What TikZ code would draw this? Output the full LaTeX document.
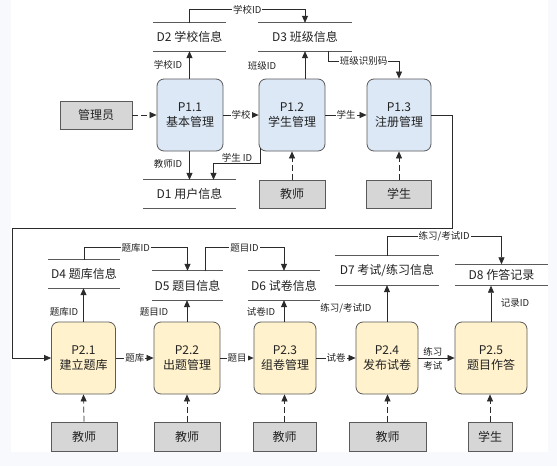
\documentclass[tikz,border=0pt]{standalone}
\usepackage{fontspec}
\setmainfont{Noto Sans CJK SC}
\usetikzlibrary{arrows.meta}
\definecolor{procblue}{HTML}{DCE8F6}
\definecolor{procyellow}{HTML}{FFF2CC}
\definecolor{entgray}{HTML}{D6D6D6}
\definecolor{edgegray}{HTML}{5A5A5A}
\definecolor{linecol}{HTML}{2B2B2B}
\definecolor{bgout}{HTML}{F7F9FC}
\definecolor{txtcol}{HTML}{222222}
\begin{document}
\begin{tikzpicture}[x=1pt,y=-1pt,
  mainfont/.style={font=\fontsize{12}{15}\selectfont, text=txtcol},
  proc/.style={draw=edgegray, line width=0.8pt, rounded corners=7pt, minimum width=#1, minimum height=72, align=center, inner sep=0pt, mainfont},
  proc/.default=66,
  blueproc/.style={proc=#1, fill=procblue},
  yellowproc/.style={proc=#1, fill=procyellow},
  ent/.style={draw=edgegray, line width=0.8pt, fill=entgray, minimum width=#1, minimum height=28, inner sep=0pt, mainfont},
  ent/.default=66,
  store/.style={minimum width=#1, minimum height=28, inner sep=0pt, mainfont},
  storeline/.style={draw=edgegray, line width=0.8pt},
  arr/.style={draw=linecol, line width=0.7pt, -{Triangle[length=7pt,width=6pt]}},
  dasharr/.style={arr, dash pattern=on 6pt off 3pt},
  lbl/.style={fill=white, inner sep=1pt, font=\fontsize{9.5}{11}\selectfont, text=txtcol},
  tlbl/.style={inner sep=1pt, font=\fontsize{9.5}{11}\selectfont, text=txtcol}
]
\useasboundingbox (0,0) rectangle (557,466);
\fill[bgout] (0,0) rectangle (557,466);
\fill[white] (11,0) rectangle (548,452);

% ---- top part ----
\node[blueproc=66] (p11) at (190,115) {P1.1\\基本管理};
\node[blueproc=66] (p12) at (292,115) {P1.2\\学生管理};
\node[blueproc=64] (p13) at (399,115) {P1.3\\注册管理};
\node[ent=72] (admin) at (96,115) {管理员};
\node[ent=66] (tch0) at (292,194) {教师};
\node[ent=65] (stu0) at (399,194) {学生};
\node[store=73] (d2) at (189.5,37) {D2 学校信息};
\node[store=94] (d3) at (305,37) {D3 班级信息};
\node[store=93] (d1) at (189.5,194) {D1 用户信息};

% ---- bottom part ----
\node[yellowproc=64] (p21) at (83.5,358) {P2.1\\建立题库};
\node[yellowproc=66] (p22) at (187,358) {P2.2\\出题管理};
\node[yellowproc=62] (p23) at (285,358) {P2.3\\组卷管理};
\node[yellowproc=62] (p24) at (387,358) {P2.4\\发布试卷};
\node[yellowproc=72] (p25) at (491,358) {P2.5\\题目作答};
\node[ent=66, minimum height=29] (tch1) at (84,436.5) {教师};
\node[ent=66, minimum height=29] (tch2) at (187,436.5) {教师};
\node[ent=63, minimum height=29] (tch3) at (284.5,436.5) {教师};
\node[ent=77, minimum height=29] (tch4) at (387.5,436.5) {教师};
\node[ent=44, minimum height=29] (stu1) at (490,436.5) {学生};
\node[store=72] (d4) at (84,274) {D4 题库信息};
\node[store=71, minimum height=29] (d5) at (187.5,285.5) {D5 题目信息};
\node[store=72, minimum height=29] (d6) at (284,285.5) {D6 试卷信息};
\node[store=104, minimum height=29] (d7) at (387,270.5) {D7 考试/练习信息};
\node[store=93, minimum height=21] (d8) at (501.5,275) {D8 作答记录};

\foreach \n in {d1,d2,d3,d4,d5,d6,d7,d8}
  \draw[storeline] (\n.north west) -- (\n.north east) (\n.south west) -- (\n.south east);

% ---- top connectors ----
\draw[dasharr] (admin.east) -- (p11.west);
\draw[arr] (p11.east) -- node[lbl]{学校} (p12.west);
\draw[arr] (p12.east) -- node[lbl]{学生} (p13.west);
\draw[arr] (p11.north -| d2.south) -- node[tlbl, left, xshift=-6pt]{学校ID} (d2.south);
\draw[arr] (p12.north -| d3.south) -- (d3.south);
\node[tlbl] (lb1) at (262,66) {班级ID};
\draw[arr] (d2.north) -- ++(0,-13) -| node[lbl, pos=0.25]{学校ID} (d3.north);
\draw[arr] ([xshift=23pt]d3.south) -- ++(0,10) -| node[lbl, pos=0.25]{班级识别码} (p13.north);
\draw[arr] (p11.south -| d1.north) -- node[tlbl, left, xshift=-6pt, pos=0.45]{教师ID} (d1.north);
\draw[arr] ([xshift=2pt,yshift=3pt]p12.south west) -- ++(0,15) -| node[tlbl, above, pos=0.25]{学生 ID} ([xshift=24pt]d1.north);
\draw[dasharr] (tch0.north) -- (p12.south);
\draw[dasharr] (stu0.north) -- (p13.south);

\coordinate (bendA) at (452,228);
\coordinate (bendB) at (12,0);
\draw[arr] (p13.east) -| (bendA) -| (p21.west -| bendB) -- (p21.west);

% ---- bottom connectors ----
\draw[arr] (p21.north) -- (p21.north |- d4.south);
\node[tlbl] (lb2) at (64,312) {题库ID};
\draw[arr] (d4.north) -- ++(0,-12) -| node[lbl, pos=0.25]{题库ID} (d5.north);
\draw[arr] (p21.east) -- node[lbl]{题库} (p22.west);
\draw[arr] (p22.north) -- (p22.north |- d5.south);
\node[tlbl] (lb3) at (154,312) {题目ID};
\draw[arr] ([xshift=17.5pt]d5.north) -- ++(0,-23) -| node[lbl, pos=0.25]{题目ID} (d6.north);
\draw[arr] (p22.east) -- node[lbl]{题目} (p23.west);
\draw[arr] (p23.north -| d6.south) -- (d6.south);
\node[tlbl] (lb4) at (261,312) {试卷ID};
\draw[arr] (p23.east) -- node[lbl]{试卷} (p24.west);
\draw[arr] (p24.north) -- (d7.south);
\node[tlbl] (lb5) at (346,308) {练习/考试ID};
\draw[arr] (d7.north) -- ++(0,-19) -| node[lbl, pos=0.25]{练习/考试ID} (d8.north);
\draw[arr] (p24.east) -- node[tlbl, above, pos=0.4]{练习} node[tlbl, below, pos=0.4, yshift=-2pt]{考试} (p25.west);
\draw[arr] (p25.north) -- (p25.north |- d8.south);
\node[tlbl] (lb6) at (515,303) {记录ID};

\draw[dasharr] (tch1.north) -- (p21.south);
\draw[dasharr] (tch2.north) -- (p22.south);
\draw[dasharr] (tch3.north) -- (tch3.north |- p23.south);
\draw[dasharr] (tch4.north) -- (tch4.north |- p24.south);
\draw[dasharr] (stu1.north) -- (stu1.north |- p25.south);
\end{tikzpicture}
\end{document}
